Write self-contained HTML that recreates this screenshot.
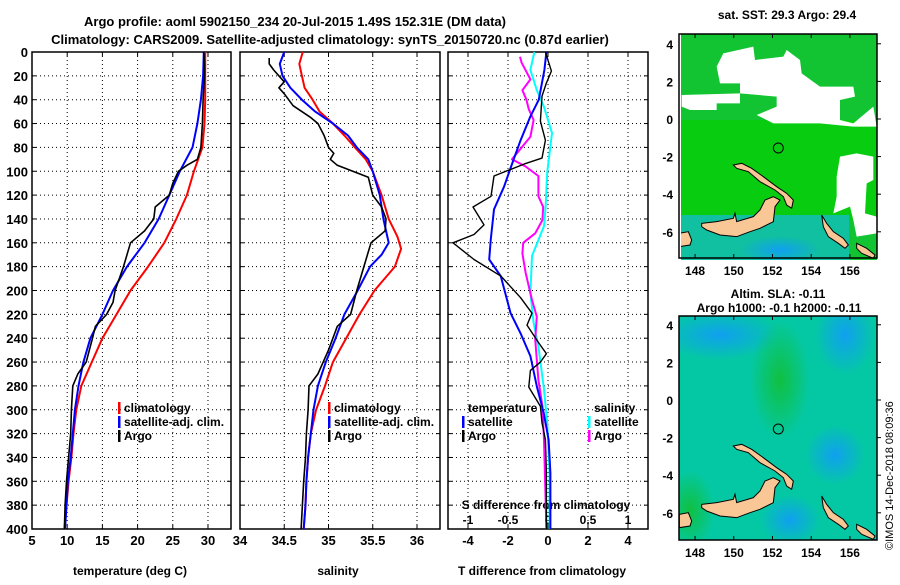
<!DOCTYPE html>
<html><head><meta charset="utf-8"><style>
body{margin:0;background:#fff;}
svg text{font-family:"Liberation Sans",sans-serif;font-weight:bold;fill:#000;}
</style></head><body>
<svg id="c" width="900" height="580" xmlns="http://www.w3.org/2000/svg">
<defs>
<radialGradient id="b1"><stop offset="0" stop-color="#10a0f0"/><stop offset="1" stop-color="#10a0f0" stop-opacity="0"/></radialGradient>
<radialGradient id="g1"><stop offset="0" stop-color="#10c040"/><stop offset="1" stop-color="#10c040" stop-opacity="0"/></radialGradient>
<clipPath id="cm1"><rect x="681" y="34" width="196" height="226"/></clipPath>
<clipPath id="cm2"><rect x="679" y="316" width="198" height="224"/></clipPath>
</defs>
<text x="295" y="26" font-size="13" text-anchor="middle">Argo profile: aoml 5902150_234 20-Jul-2015 1.49S 152.31E (DM data)</text>
<text x="330" y="44" font-size="13" text-anchor="middle">Climatology: CARS2009. Satellite-adjusted climatology: synTS_20150720.nc (0.87d earlier)</text>
<g id="plots"></g>
<g id="maps"></g>
<text x="787" y="19" font-size="12" text-anchor="middle">sat. SST: 29.3 Argo: 29.4</text>
<text x="778" y="298" font-size="12" text-anchor="middle">Altim. SLA: -0.11</text>
<text x="779" y="312" font-size="12" text-anchor="middle">Argo h1000: -0.1 h2000: -0.11</text>
<text x="0" y="0" font-size="11" transform="translate(893,550) rotate(-90)" style="font-weight:normal">©IMOS 14-Dec-2018 08:09:36</text>
</svg>
<script>
// ---- data ----
const depthTicks=[0,20,40,60,80,100,120,140,160,180,200,220,240,260,280,300,320,340,360,380,400];
const tempTicks=[5,10,15,20,25,30];
const salTicks=[34,34.5,35,35.5,36];
const tdiffTicks=[-4,-2,0,2,4];
const sdiffTicks=[-1,-0.5,0,0.5,1];
const tClimD=[0,20,40,60,80,100,120,140,160,180,200,220,240,260,280,300,320,340,360,380,400];
const tClim=[29.6,29.6,29.6,29.5,29.2,28,27,25.5,23.8,21.5,19,17,15,13.5,12,11.3,10.9,10.6,10.2,9.9,9.6];
const tSatD=[0,20,40,60,80,100,120,140,160,180,200,220,240,260,280,300,320,340,360,380,400];
const tSat=[29.4,29.3,29.0,28.5,27.8,26.0,24.5,23,21,18.5,16.5,15,13.3,12.3,11.6,11.1,10.8,10.5,10.1,9.9,9.7];
const tArgoD=[0,10,20,40,60,80,90,95,100,110,120,130,140,150,160,170,180,200,210,220,230,240,260,270,280,300,320,340,360,380,400];
const tArgo=[29.4,29.5,29.5,29.3,29.2,29.0,28.5,27,25.8,25,24.5,22.5,22.3,21,19,18.5,18,16.8,16.5,15.6,14,13.6,12.7,11.5,10.8,10.6,10.5,10.2,9.9,9.7,9.6];
const sClimD=[0,10,20,30,40,50,60,70,80,90,100,120,140,155,165,180,200,220,240,260,280,300,320,340,360,380,400];
const sClim=[34.71,34.67,34.7,34.73,34.82,34.9,35.05,35.18,35.3,35.42,35.5,35.6,35.68,35.78,35.82,35.75,35.52,35.35,35.2,35.05,34.96,34.86,34.8,34.77,34.75,34.74,34.72];
const sSatD=[0,10,20,30,40,50,60,70,80,90,100,120,140,160,170,180,200,220,240,260,280,300,320,340,360,380,400];
const sSat=[34.5,34.45,34.48,34.57,34.7,34.85,35.05,35.22,35.32,35.45,35.5,35.58,35.62,35.68,35.6,35.47,35.33,35.18,35.08,34.97,34.88,34.83,34.8,34.77,34.75,34.74,34.72];
const sArgoD=[5,10,15,25,30,35,45,55,60,70,80,85,90,95,105,120,130,140,150,160,180,200,220,230,250,270,280,300,320,340,360,400];
const sArgo=[34.33,34.33,34.38,34.5,34.44,34.5,34.6,34.8,34.88,34.95,35.0,35.06,35.02,35.1,35.45,35.5,35.6,35.65,35.64,35.48,35.4,35.32,35.25,35.1,35.0,34.88,34.78,34.77,34.75,34.74,34.72,34.69];
const dtArgoD=[0,16,26,37,58,74,89,94,104,121,130,145,153,160,174,188,206,219,229,244,253,260,267,281,297,311,325,353,400];
const dtArgo=[-0.13,0.17,-0.08,-0.3,-0.38,-0.13,-0.3,-1.2,-2.7,-2.85,-3.75,-3.2,-3.7,-4.75,-3.7,-2.35,-1.37,-0.8,-1.05,-0.46,-0.08,-0.38,-0.88,-0.96,-0.38,-0.3,-0.13,-0.08,-0.08];
const dtSatD=[0,15,40,54,74,93,113,132,157,174,188,219,236,255,281,303,325,353,400];
const dtSat=[-0.08,-0.18,-0.46,-0.88,-1.37,-1.78,-2.2,-2.7,-2.86,-2.94,-2.36,-1.87,-1.37,-0.88,-0.55,-0.21,0.03,0.12,0.12];
const dsSatD=[0,15,32,46,68,101,130,146,171,202,227,247,283,311,353,400];
const dsSat=[-0.17,-0.22,-0.14,-0.05,0.05,-0.01,-0.03,-0.05,-0.2,-0.22,-0.18,-0.12,-0.05,-0.01,0.02,0.02];
const dsArgoD=[4,9,23,32,40,48,57,71,90,96,104,121,130,141,152,160,169,185,208,222,241,275,297,325,400];
const dsArgo=[-0.35,-0.33,-0.22,-0.32,-0.27,-0.24,-0.18,-0.22,-0.45,-0.28,-0.12,-0.12,-0.06,-0.07,-0.16,-0.31,-0.32,-0.28,-0.2,-0.14,-0.16,-0.12,-0.07,-0.05,-0.02];

const NS='http://www.w3.org/2000/svg';
function mk(t,a,p){const e=document.createElementNS(NS,t);for(const k in a)e.setAttribute(k,a[k]);p.appendChild(e);return e;}
const G=document.getElementById('plots');
const Y0=52,Y1=529;
const yD=d=>Y0+(d/400)*(Y1-Y0);
function lin(d0,d1,r0,r1){return v=>r0+(v-d0)/(d1-d0)*(r1-r0);}
const P1={x0:32,x1:231,sx:lin(5,33.27,32,231)};
const P2={x0:240,x1:440,sx:lin(34,36.26,240,440)};
const P3={x0:448,x1:648,sx:lin(-5,5,448,648)};
const sS=lin(-1.25,1.25,448,648);

function gridFrame(P,ticks,name){
  const g=mk('g',{},G);
  
  
  depthTicks.forEach(d=>{if(d>0&&d<400)mk('line',{x1:P.x0,x2:P.x1,y1:yD(d),y2:yD(d),stroke:'#000','stroke-width':1,'stroke-dasharray':'1,3'},g);
    mk('line',{x1:P.x0,x2:P.x0+4,y1:yD(d),y2:yD(d),stroke:'#000'},g);mk('line',{x1:P.x1-4,x2:P.x1,y1:yD(d),y2:yD(d),stroke:'#000'},g);});
  ticks.forEach(t=>{const x=P.sx(t);if(x>P.x0+1&&x<P.x1-1)mk('line',{x1:x,x2:x,y1:Y0,y2:Y1,stroke:'#000','stroke-dasharray':'1,3'},g);
    mk('line',{x1:x,x2:x,y1:Y1-4,y2:Y1,stroke:'#000'},g);mk('line',{x1:x,x2:x,y1:Y0,y2:Y0+4,stroke:'#000'},g);
    const tx=mk('text',{x:x,y:Y1+16,'font-size':13,'text-anchor':'middle'},g);tx.textContent=t;
    
    });
  mk('rect',{x:P.x0,y:Y0,width:P.x1-P.x0,height:Y1-Y0,fill:'none',stroke:'#000','stroke-width':1.5},g);
  return g;
}
gridFrame(P1,tempTicks,'temperature-panel');
gridFrame(P2,salTicks,'salinity-panel');
gridFrame(P3,tdiffTicks,'difference-panel');
depthTicks.forEach(d=>{const t=mk('text',{x:28,y:yD(d)+5,'font-size':13,'text-anchor':'end'},G);t.textContent=d;
  
  });
sdiffTicks.forEach(v=>{const t=mk('text',{x:sS(v),y:524,'font-size':12,'text-anchor':'middle'},G);t.textContent=v;
  
  });
function lab(x,y,s,txt,name,anchor){const t=mk('text',{x:x,y:y,'font-size':s,'text-anchor':anchor||'middle'},G);t.textContent=txt;
  
  }
lab(546,509,12,'S difference from climatology','s-diff-axis-title');
lab(130,575,12,'temperature (deg C)','temperature-axis-title');
lab(338,575,12,'salinity','salinity-axis-title');
lab(542,575,12,'T difference from climatology','t-diff-axis-title');

function series(P,sx,vals,ds,col,w,name){
  const pts=vals.map((v,i)=>sx(v).toFixed(1)+','+yD(ds[i]).toFixed(1)).join(' ');
  const l=mk('polyline',{points:pts,fill:'none',stroke:col,'stroke-width':w,'stroke-linejoin':'round'},G);
  
  
}
series(P1,P1.sx,tClim,tClimD,'#f00',2,'temp-climatology-line');
series(P1,P1.sx,tSat,tSatD,'#00f',2,'temp-satellite-line');
series(P1,P1.sx,tArgo,tArgoD,'#000',1.6,'temp-argo-line');
series(P2,P2.sx,sClim,sClimD,'#f00',2,'sal-climatology-line');
series(P2,P2.sx,sSat,sSatD,'#00f',2,'sal-satellite-line');
series(P2,P2.sx,sArgo,sArgoD,'#000',1.6,'sal-argo-line');
series(P3,sS,dsSat,dsSatD,'#0ff',2,'sdiff-satellite-line');
series(P3,sS,dsArgo,dsArgoD,'#f0f',2,'sdiff-argo-line');
series(P3,P3.sx,dtSat,dtSatD,'#00f',2,'tdiff-satellite-line');
series(P3,P3.sx,dtArgo,dtArgoD,'#000',1.4,'tdiff-argo-line');

function legend(x,y,items,name){
  const g=mk('g',{},G);
  
  
  items.forEach((it,i)=>{const yy=y+i*14;
    if(it[1])mk('rect',{x:x,y:yy-10,width:2.5,height:12,fill:it[1]},g);
    const t=mk('text',{x:x+6,y:yy,'font-size':12},g);t.textContent=it[0];});
}
legend(118,412,[['climatology','#f00'],['satellite-adj. clim.','#00f'],['Argo','#000']],'temp-legend');
legend(328,412,[['climatology','#f00'],['satellite-adj. clim.','#00f'],['Argo','#000']],'sal-legend');
legend(462,412,[['temperature',null],['satellite','#00f'],['Argo','#000']],'tdiff-legend');
legend(588,412,[['salinity',null],['satellite','#0ff'],['Argo','#f0f']],'sdiff-legend');

// ---- maps ----
const M=document.getElementById('maps');
const lonTicks=[148,150,152,154,156];
const latTicks=[4,2,0,-2,-4,-6];
const mapLon=lin(147.17,157.4,679,877);
function mapFrame(top,lat0y,clip,name,bg){
  const g=mk('g',{},M);
  
  
  const c=mk('g',{'clip-path':'url(#'+clip+')'},g);
  bg(c);
  const sh=mk('g',{transform:'translate(440,'+(40+(lat0y-119))+') scale(0.33333)'},c);
  const land=[
   '785,550 830,545 880,535 885,520 890,545 940,530 960,510 975,480 1000,470 1020,480 1005,500 1000,545 960,565 930,575 890,590 840,585 800,570 785,560',
   '880,375 905,370 935,385 970,410 1010,440 1040,460 1060,480 1055,505 1040,495 1030,470 1005,450 960,425 925,395 890,385',
   '1145,525 1160,550 1180,575 1210,595 1225,615 1215,625 1195,610 1165,590 1150,560',
   '1250,610 1280,625 1305,645 1300,655 1265,640 1250,625',
   '718,580 745,575 755,600 750,615 718,620'];
  land.forEach(p=>mk('polygon',{points:p,fill:'#f9c696',stroke:'#000','stroke-width':3},sh));
  mk('circle',{cx:1015,cy:324,r:15,fill:'none',stroke:'#000','stroke-width':3},sh);
  const bot=top+224;
  mk('rect',{x:679,y:top,width:198,height:bot-top,fill:'none',stroke:'#000','stroke-width':1.5},g);
  lonTicks.forEach(l=>{const x=mapLon(l);mk('line',{x1:x,x2:x,y1:bot-4,y2:bot,stroke:'#000'},g);mk('line',{x1:x,x2:x,y1:top,y2:top+4,stroke:'#000'},g);
    const t=mk('text',{x:x,y:bot+17,'font-size':12,'text-anchor':'middle'},g);t.textContent=l;});
  latTicks.forEach(l=>{const y=lat0y-l*18.8;const t=mk('text',{x:673,y:y+5,'font-size':12,'text-anchor':'end'},g);t.textContent=l;
    mk('line',{x1:877,x2:881,y1:y,y2:y,stroke:'#000'},g);});
}
mapFrame(34,119,'cm1','sst-map',c=>{
  mk('rect',{x:679,y:34,width:198,height:226,fill:'#12c432'},c);
  mk('rect',{x:679,y:120,width:198,height:100,fill:'#08cc10'},c);
  mk('rect',{x:679,y:215,width:170,height:45,fill:'#10c0a0'},c);
  mk('ellipse',{cx:780,cy:250,rx:40,ry:14,fill:'url(#b1)'},c);
  const cl=mk('g',{transform:'translate(440,40) scale(0.33333)',fill:'#fff'},c);
  ['850,40 940,20 945,60 1030,50 1040,30 1080,60 1085,100 1140,140 1240,140 1245,170 1200,180 1200,240 1240,250 1300,200 1310,260 1240,260 1140,250 1000,250 950,225 1010,200 1010,170 900,160 900,130 840,130 830,80',
   '725,165 900,160 900,190 830,190 830,210 750,210 725,200',
   '1190,410 1200,350 1250,340 1300,350 1300,420 1280,430 1275,520 1310,530 1310,580 1250,590 1240,540 1230,500 1180,520 1190,470'
  ].forEach(p=>mk('polygon',{points:p},cl));
});
mapFrame(316,400,'cm2','sla-map',c=>{
  mk('rect',{x:679,y:316,width:198,height:224,fill:'#04c8a4'},c);
  mk('ellipse',{cx:720,cy:335,rx:60,ry:25,fill:'url(#b1)'},c);
  mk('ellipse',{cx:845,cy:335,rx:30,ry:40,fill:'url(#b1)'},c);
  mk('ellipse',{cx:835,cy:455,rx:30,ry:30,fill:'url(#b1)'},c);
  mk('ellipse',{cx:790,cy:520,rx:30,ry:25,fill:'url(#b1)'},c);
  mk('ellipse',{cx:780,cy:380,rx:30,ry:60,fill:'url(#g1)'},c);
  mk('ellipse',{cx:690,cy:510,rx:25,ry:40,fill:'url(#g1)'},c);
});
</script>
</body></html>
